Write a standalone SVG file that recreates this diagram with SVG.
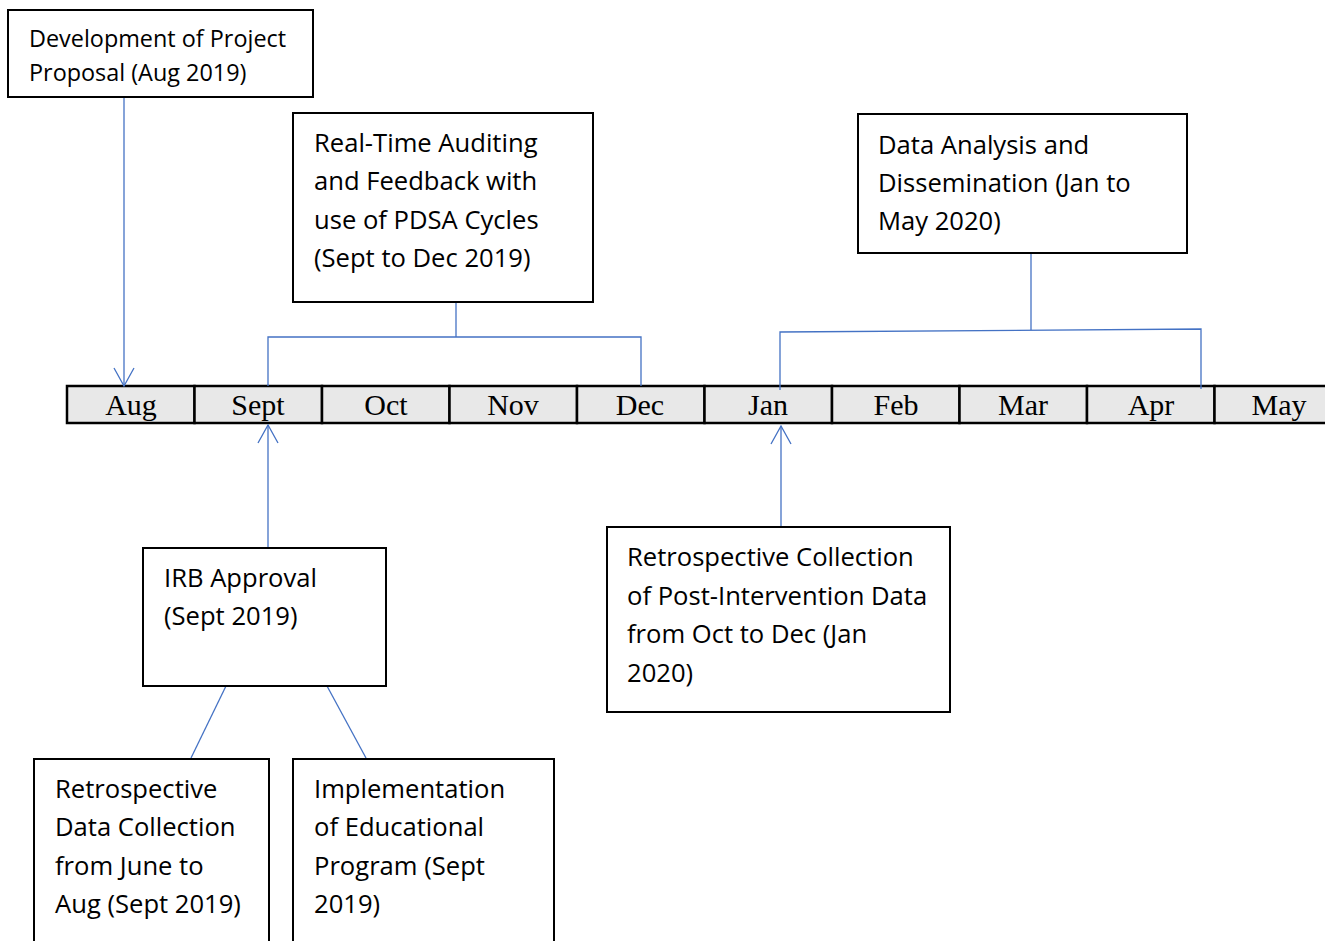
<svg xmlns="http://www.w3.org/2000/svg" width="1325" height="941" viewBox="0 0 1325 941">
<defs>
<style>
.box{fill:#fff;stroke:#000;stroke-width:2}
.t{font-family:"Open Sans","Noto Sans",sans-serif;font-size:25.6px;fill:#000}
.t2{font-family:"Open Sans","Noto Sans",sans-serif;font-size:23.4px;fill:#000}
.cell{fill:#e8e8e8;stroke:#000;stroke-width:2.5}
.m{font-family:"Liberation Serif",serif;font-size:30px;fill:#000;text-anchor:middle}
.c{fill:none;stroke:#4472c4;stroke-width:1.3}
</style>
<marker id="arr" viewBox="0 0 20 22" refX="19" refY="11" markerWidth="20" markerHeight="22" markerUnits="userSpaceOnUse" orient="auto">
<path d="M1,1 L19,11 L1,21" fill="none" stroke="#4472c4" stroke-width="1.3"/>
</marker>
</defs>
<rect width="1325" height="941" fill="#fff"/>
<g id="timeline">
<rect class="cell" x="67" y="386" width="127.5" height="37"/>
<rect class="cell" x="194.5" y="386" width="127.5" height="37"/>
<rect class="cell" x="322" y="386" width="127.5" height="37"/>
<rect class="cell" x="449.5" y="386" width="127.5" height="37"/>
<rect class="cell" x="577" y="386" width="127.5" height="37"/>
<rect class="cell" x="704.5" y="386" width="127.5" height="37"/>
<rect class="cell" x="832" y="386" width="127.5" height="37"/>
<rect class="cell" x="959.5" y="386" width="127.5" height="37"/>
<rect class="cell" x="1087" y="386" width="127.5" height="37"/>
<rect class="cell" x="1214.5" y="386" width="127.5" height="37"/>
<text class="m" x="131" y="415">Aug</text>
<text class="m" x="258" y="415">Sept</text>
<text class="m" x="386" y="415">Oct</text>
<text class="m" x="513" y="415">Nov</text>
<text class="m" x="640" y="415">Dec</text>
<text class="m" x="768" y="415">Jan</text>
<text class="m" x="896" y="415">Feb</text>
<text class="m" x="1023" y="415">Mar</text>
<text class="m" x="1151" y="415">Apr</text>
<text class="m" x="1279" y="415">May</text>
</g>
<g id="connectors">
<line class="c" x1="124" y1="97" x2="124" y2="386" marker-end="url(#arr)"/>
<polyline class="c" points="456,302 456,337"/>
<polyline class="c" points="268,386 268,337 641,337 641,386"/>
<polyline class="c" points="1031,253 1031,330"/>
<polyline class="c" points="780,390 780,332 1201,329 1201,389"/>
<line class="c" x1="268" y1="548" x2="268" y2="425" marker-end="url(#arr)"/>
<line class="c" x1="781" y1="527" x2="781" y2="426" marker-end="url(#arr)"/>
<line class="c" x1="226" y1="686" x2="191" y2="758"/>
<line class="c" x1="327" y1="686" x2="366" y2="758"/>
</g>
<g id="n-proposal">
<rect class="box" x="8" y="10" width="305" height="87"/>
<text class="t2" x="29" y="47">Development of Project</text>
<text class="t2" x="29" y="81">Proposal (Aug 2019)</text>
</g>
<g id="n-realtime">
<rect class="box" x="293" y="113" width="300" height="189"/>
<text class="t" x="314" y="152">Real-Time Auditing</text>
<text class="t" x="314" y="190">and Feedback with</text>
<text class="t" x="314" y="229">use of PDSA Cycles</text>
<text class="t" x="314" y="267">(Sept to Dec 2019)</text>
</g>
<g id="n-analysis">
<rect class="box" x="858" y="114" width="329" height="139"/>
<text class="t" x="878" y="154">Data Analysis and</text>
<text class="t" x="878" y="192">Dissemination (Jan to</text>
<text class="t" x="878" y="230">May 2020)</text>
</g>
<g id="n-irb">
<rect class="box" x="143" y="548" width="243" height="138"/>
<text class="t" x="164" y="587">IRB Approval</text>
<text class="t" x="164" y="625">(Sept 2019)</text>
</g>
<g id="n-postdata">
<rect class="box" x="607" y="527" width="343" height="185"/>
<text class="t" x="627" y="566">Retrospective Collection</text>
<text class="t" x="627" y="605">of Post-Intervention Data</text>
<text class="t" x="627" y="643">from Oct to Dec (Jan</text>
<text class="t" x="627" y="682">2020)</text>
</g>
<g id="n-retro">
<rect class="box" x="34" y="759" width="235" height="200"/>
<text class="t" x="55" y="798">Retrospective</text>
<text class="t" x="55" y="836">Data Collection</text>
<text class="t" x="55" y="875">from June to</text>
<text class="t" x="55" y="913">Aug (Sept 2019)</text>
</g>
<g id="n-impl">
<rect class="box" x="293" y="759" width="261" height="200"/>
<text class="t" x="314" y="798">Implementation</text>
<text class="t" x="314" y="836">of Educational</text>
<text class="t" x="314" y="875">Program (Sept</text>
<text class="t" x="314" y="913">2019)</text>
</g>
</svg>
